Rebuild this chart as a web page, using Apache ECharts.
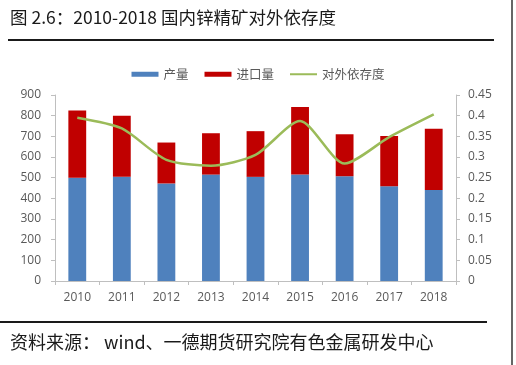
<!DOCTYPE html>
<html><head><meta charset="utf-8">
<script src="https://cdn.jsdelivr.net/npm/echarts@6/dist/echarts.min.js"></script>
<style>html,body{margin:0;padding:0;background:#fff}#c{width:516px;height:365px}</style>
</head><body><div id="c"></div>
<script>
const years = ['2010','2011','2012','2013','2014','2015','2016','2017','2018'];
const production = [500, 504, 472, 515, 504, 515, 507, 459, 440];
const imports = [325, 296, 198, 200, 221, 327, 203, 243, 297];
const dependence = [0.395, 0.369, 0.293, 0.279, 0.305, 0.387, 0.284, 0.348, 0.403];
const titleText = '图 2.6：2010-2018 国内锌精矿对外依存度';
const sourceText = '资料来源： wind、一德期货研究院有色金属研发中心';
const seriesNames = ['产量', '进口量', '对外依存度'];

const chart = echarts.init(document.getElementById('c'), null, {renderer: 'canvas'});
const axisGrey = '#BFBFBF';
const labelGrey = '#595959';
chart.setOption({
  backgroundColor: '#fff',
  animation: false,
  textStyle: {fontFamily: '"Noto Sans CJK SC", "Open Sans", sans-serif'},
  legend: {
    top: 63, left: 'center',
    itemWidth: 27, itemHeight: 5, itemGap: 16,
    textStyle: {fontSize: 12.5, color: labelGrey},
    data: [
      {name: seriesNames[0], icon: 'rect'},
      {name: seriesNames[1], icon: 'rect'},
      {name: seriesNames[2], icon: 'path://M0,0M27,5M0,1.5H27V3.5H0Z'}
    ]
  },
  grid: {left: 55, right: 60, top: 95, bottom: 84},
  xAxis: {
    type: 'category', data: years,
    axisLine: {lineStyle: {color: axisGrey}},
    axisTick: {show: true, alignWithLabel: false, length: 4, lineStyle: {color: axisGrey}},
    axisLabel: {fontSize: 12, color: labelGrey, margin: 11, fontFamily: '"Open Sans", sans-serif'}
  },
  yAxis: [
    {
      type: 'value', min: 0, max: 900, interval: 100,
      splitLine: {show: false},
      axisLine: {show: true, lineStyle: {color: axisGrey}},
      axisTick: {show: true, length: 4, lineStyle: {color: axisGrey}},
      axisLabel: {fontSize: 12, color: labelGrey, margin: 14, fontFamily: '"Open Sans", sans-serif'}
    },
    {
      type: 'value', min: 0, max: 0.45, interval: 0.05,
      splitLine: {show: false},
      axisLine: {show: true, lineStyle: {color: axisGrey}},
      axisTick: {show: true, length: 4, lineStyle: {color: axisGrey}},
      axisLabel: {fontSize: 12, color: labelGrey, margin: 12, fontFamily: '"Open Sans", sans-serif'}
    }
  ],
  series: [
    {name: seriesNames[0], type: 'bar', stack: 'a', data: production, barWidth: '40%',
     itemStyle: {color: '#4F81BD'}},
    {name: seriesNames[1], type: 'bar', stack: 'a', data: imports, barWidth: '40%',
     itemStyle: {color: '#C00000'}},
    {name: seriesNames[2], type: 'line', yAxisIndex: 1, data: dependence,
     smooth: 0.25, symbol: 'none', lineStyle: {color: '#9BBB59', width: 2.5},
     itemStyle: {color: '#9BBB59'}}
  ],
  graphic: [
    {type: 'text', left: 10, top: 9,
     style: {text: titleText, fontSize: 17.5, fill: '#1a1a1a', fontFamily: '"Noto Sans CJK SC", sans-serif'}},
    {type: 'line', shape: {x1: 8, y1: 40, x2: 494, y2: 40}, style: {stroke: '#1a1a1a', lineWidth: 2}},
    {type: 'line', shape: {x1: 0, y1: 322, x2: 487, y2: 322}, style: {stroke: '#1a1a1a', lineWidth: 2}},
    {type: 'line', shape: {x1: 512, y1: 0, x2: 512, y2: 365}, style: {stroke: '#333', lineWidth: 1.5}},
    {type: 'text', left: 10, top: 333,
     style: {text: sourceText, fontSize: 18, fill: '#1a1a1a', fontFamily: '"Noto Sans CJK SC", sans-serif'}}
  ]
});
</script></body></html>
